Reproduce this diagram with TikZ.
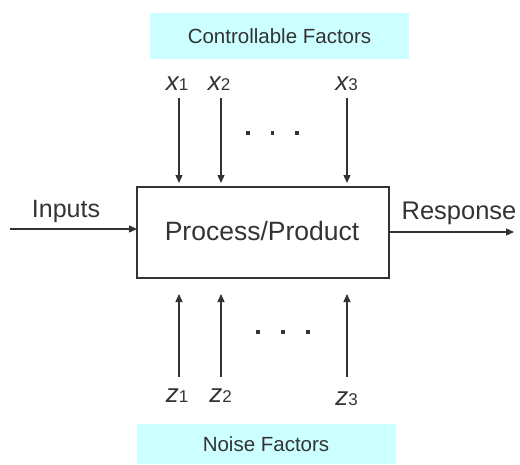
\documentclass[tikz,border=0pt]{standalone}
\usepackage{fontspec}
\setmainfont{Liberation Sans}
\usetikzlibrary{arrows.meta}
\definecolor{ink}{HTML}{333333}
\definecolor{band}{HTML}{CCFFFF}
\newcommand{\fvar}[2]{{\fontsize{26}{26}\selectfont\itshape #1}{\fontsize{17}{17}\selectfont #2}}
\begin{document}
\begin{tikzpicture}[x=1pt,y=-1pt,
  txt/.style={text=ink,inner sep=0pt,anchor=base},
  bandbox/.style={fill=band,draw=none},
  mainbox/.style={draw=ink,line width=1.4pt,fill=white},
  flow/.style={draw=ink,line width=1.3pt,-{Triangle[length=8pt,width=7pt]}},
  dotmark/.style={fill=ink,draw=none,minimum size=3.2pt,inner sep=0pt}]
\useasboundingbox (0,0) rectangle (520,464);

% header and footer bands
\fill[band] (150,13) rectangle (409,59);
\node[txt,font=\fontsize{20.5}{20.5}\selectfont] (ctrl) at (279.5,43) {Controllable Factors};
\fill[band] (137,424) rectangle (396,464);
\node[txt,font=\fontsize{20.5}{20.5}\selectfont] (noise) at (266,451) {Noise Factors};

% process block
\draw[mainbox] (137,187) rectangle (389,278);
\coordinate (boxc) at (263,232.5);
\node[txt,font=\fontsize{26.5}{26.5}\selectfont] (proc) at (262,240) {Process/Product};

% input and response
\coordinate (inA) at (10,229);
\coordinate (inB) at (137,229);
\draw[flow] (inA) -- (inB);
\node[txt,font=\fontsize{25}{25}\selectfont] (inputs) at (66,217) {Inputs};
\coordinate (outA) at (389,232);
\coordinate (outB) at (514,232);
\draw[flow] (outA) -- (outB);
\node[txt,font=\fontsize{25.5}{25.5}\selectfont] (resp) at (459,219) {Response};

% controllable factors
\node[txt] (x1) at (177,90) {\fvar{x}{1}};
\node[txt] (x2) at (219,90) {\fvar{x}{2}};
\node[txt] (x3) at (346.5,90) {\fvar{x}{3}};
\foreach \n/\xx in {1/179,2/221,3/347}{
  \coordinate (xs\n) at (\xx,98);
  \coordinate (xe\n) at (\xx,183);
  \draw[flow] (xs\n) -- (xe\n);
}
\foreach \n/\xx in {1/248,2/272.5,3/297}
  \node[dotmark] (xd\n) at (\xx,133) {};

% noise factors
\node[txt] (z1) at (177,402) {\fvar{z}{1}};
\node[txt] (z2) at (220.5,402) {\fvar{z}{2}};
\node[txt] (z3) at (346.5,405) {\fvar{z}{3}};
\foreach \n/\xx in {1/179,2/221,3/347}{
  \coordinate (zs\n) at (\xx,377);
  \coordinate (ze\n) at (\xx,294);
  \draw[flow] (zs\n) -- (ze\n);
}
\foreach \n/\xx in {1/258,2/283,3/308}
  \node[dotmark] (zd\n) at (\xx,332) {};
\end{tikzpicture}
\end{document}
